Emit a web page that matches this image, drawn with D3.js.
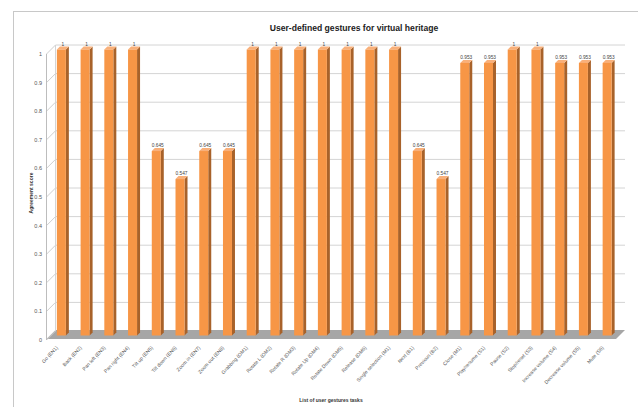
<!DOCTYPE html>
<html><head><meta charset="utf-8">
<script src="https://cdn.jsdelivr.net/npm/d3@7"></script>
<style>body{margin:0;background:#fff}svg{display:block}</style>
</head><body>
<script>
const categories = ["Go (EN1)","Back (EN2)","Pan left (EN3)","Pan right (EN4)","Tilt up (EN5)","Tilt down (EN6)","Zoom in (EN7)","Zoom out (EN8)","Grabbing (OM1)","Rotate L (OM2)","Rotate R (OM3)","Rotate Up (OM4)","Rotate Down (OM5)","Release (OM6)","Single selection (M1)","Next (B1)","Previous (B2)","Close (M1)","Play/resume (S1)","Pause (S2)","Stop/reset (S3)","Increase volume (S4)","Decrease volume (S5)","Mute (S6)"];
const values = [1,1,1,1,0.645,0.547,0.645,0.645,1,1,1,1,1,1,1,0.645,0.547,0.953,0.953,1,1,0.953,0.953,0.953];
const valueLabels = ["1","1","1","1","0.645","0.547","0.645","0.645","1","1","1","1","1","1","1","0.645","0.547","0.953","0.953","1","1","0.953","0.953","0.953"];
const yTicks = [0,0.1,0.2,0.3,0.4,0.5,0.6,0.7,0.8,0.9,1];
const title = "User-defined gestures for virtual heritage";
const xTitle = "List of user gestures tasks";
const yTitle = "Agreement score";

const W = 638, H = 407;
const svg = d3.select("body").append("svg").attr("width", W).attr("height", H);
const font = "'Liberation Sans', Arial, sans-serif";

// frame
svg.append("rect").attr("x",13.5).attr("y",11.5).attr("width",700).attr("height",500)
  .attr("fill","none").attr("stroke","#c8c8c8").attr("stroke-width",1);

const x = d3.scaleBand().domain(categories).range([46.5, 616]);
const y = d3.scaleLinear().domain([0,1]).range([340, 54]);
const D = 9; // depth offset of back wall
const dy = 9;

// floor
const f0 = y(0) - 1;
svg.append("path")
  .attr("d", `M${x.range()[0]},${f0} L${x.range()[1]},${f0} L${x.range()[1]+D},${f0-dy} L${x.range()[0]+D},${f0-dy} Z`)
  .attr("fill","#a6a6a6");

// gridlines on back wall + side wall
const g = svg.append("g");
yTicks.forEach(t => {
  if (t > 0) {
    g.append("line").attr("x1",x.range()[0]+D).attr("x2",x.range()[1]+D)
      .attr("y1",y(t)-dy).attr("y2",y(t)-dy).attr("stroke","#d4d4d4").attr("stroke-width",1);
  }
  g.append("line").attr("x1",x.range()[0]).attr("x2",x.range()[0]+D)
    .attr("y1",y(t)).attr("y2",y(t)-dy).attr("stroke","#cfcfcf").attr("stroke-width",1);
});
g.append("line").attr("x1",x.range()[0]+D).attr("x2",x.range()[0]+D)
  .attr("y1",y(1)-dy).attr("y2",y(0)-dy).attr("stroke","#d4d4d4");
g.append("line").attr("x1",x.range()[0]).attr("x2",x.range()[0])
  .attr("y1",y(1)).attr("y2",y(0)).attr("stroke","#bdbdbd");

// y tick labels
svg.append("g").selectAll("text").data(yTicks).join("text")
  .attr("x",42).attr("y",d=>y(d)+2).attr("text-anchor","end")
  .attr("font-family",font).attr("font-size",5.5).attr("fill","#555")
  .text(d=>d);

// bars
const bw = 9, bd = 3, shift = 3, lift = 4.5;
const bars = svg.append("g");
categories.forEach((c,i) => {
  const v = values[i];
  const cx = x(c) + x.bandwidth()/2 + shift;
  const x0 = cx - bw/2, x1 = cx + bw/2;
  const yt = y(v) - lift, yb = y(0) - lift;
  bars.append("path").attr("d",`M${x1},${yt} L${x1+bd},${yt-bd} L${x1+bd},${yb-bd} L${x1},${yb} Z`).attr("fill","#a8622a");
  bars.append("path").attr("d",`M${x0},${yt} L${x0+bd},${yt-bd} L${x1+bd},${yt-bd} L${x1},${yt} Z`).attr("fill","#f9b07a");
  bars.append("rect").attr("x",x0).attr("y",yt).attr("width",bw).attr("height",yb-yt).attr("fill","#f79646");
  bars.append("text").attr("x",cx+1.5).attr("y",yt-4).attr("text-anchor","middle")
    .attr("font-family",font).attr("font-size",4.8).attr("fill","#444").text(valueLabels[i]);
});

// x labels
svg.append("g").selectAll("text").data(categories).join("text")
  .attr("transform",d=>`translate(${x(d)+x.bandwidth()/2},${348}) rotate(-47)`)
  .attr("text-anchor","end").attr("font-family",font).attr("font-size",5).attr("fill","#555")
  .text(d=>d);

// titles
svg.append("text").attr("x",354).attr("y",31).attr("text-anchor","middle")
  .attr("font-family",font).attr("font-weight","bold").attr("font-size",8.6).attr("fill","#222").text(title);
svg.append("text").attr("x",331).attr("y",402).attr("text-anchor","middle")
  .attr("font-family",font).attr("font-weight","bold").attr("font-size",5).attr("fill","#333").text(xTitle);
svg.append("text").attr("transform","translate(33,193) rotate(-90)").attr("text-anchor","middle")
  .attr("font-family",font).attr("font-weight","bold").attr("font-size",5).attr("fill","#333").text(yTitle);
</script>
</body></html>
